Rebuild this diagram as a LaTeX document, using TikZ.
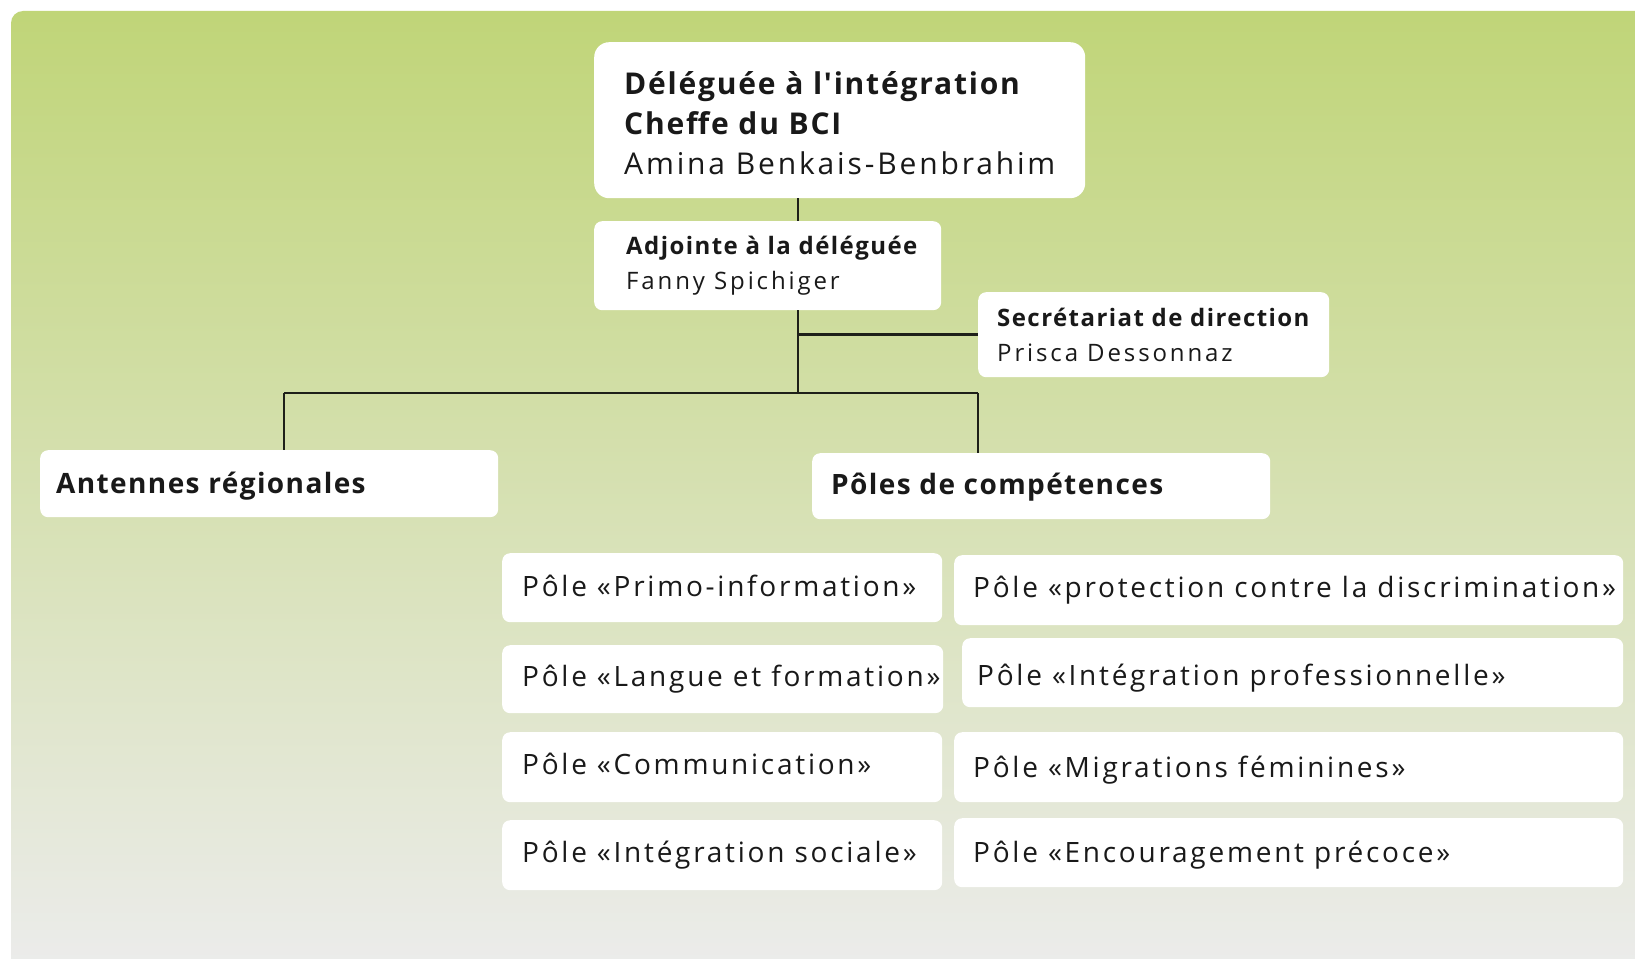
\documentclass[tikz,border=0pt]{standalone}
\usepackage{fontspec}
\setmainfont{Open Sans}
\newfontfamily\fRt[LetterSpace=9.5]{Open Sans}
\newfontfamily\fRm[LetterSpace=12]{Open Sans}
\newfontfamily\fRp[LetterSpace=9.8]{Open Sans}
\newfontfamily\fBt[LetterSpace=6]{Open Sans}
\newfontfamily\fBm[LetterSpace=6]{Open Sans}
\newfontfamily\fBh[LetterSpace=5]{Open Sans}
\definecolor{bgtop}{RGB}{192,213,120}
\definecolor{bgbot}{RGB}{236,236,236}
\definecolor{txt}{RGB}{25,25,25}
\definecolor{lnc}{RGB}{30,32,25}
\begin{document}
\begin{tikzpicture}[x=1pt,y=-1pt,
  box/.style={fill=white, rounded corners=8pt, inner sep=0pt, anchor=north west},
  lbl/.style={inner sep=0pt, anchor=west, align=left, text=txt},
  one/.style={inner sep=0pt, anchor=west, text=txt, text height=20pt, text depth=6pt},
  pole/.style={one, font=\fRp\fontsize{28}{34}\selectfont},
  head/.style={one, font=\fBh\bfseries\fontsize{28}{34}\selectfont},
  ln/.style={draw=lnc, line width=2.6pt}]
\useasboundingbox (0,0) rectangle (1635,958);
\fill[white] (0,0) rectangle (1635,958);
\shade[top color=bgtop, bottom color=bgbot, rounded corners=12pt] (11,11) rectangle (1665,975);

% boxes
\node[box, rounded corners=15pt, minimum width=491pt, minimum height=156pt] (top) at (594,42) {};
\node[box, minimum width=347pt, minimum height=89pt] (adj) at (594,221) {};
\node[box, minimum width=351pt, minimum height=85pt] (sec) at (978,292) {};
\node[box, minimum width=458pt, minimum height=67pt] (ant) at (40,450) {};
\node[box, minimum width=458pt, minimum height=66pt] (pol) at (812,453) {};
\node[box, minimum width=440pt, minimum height=69pt] (l1) at (502,553) {};
\node[box, minimum width=441pt, minimum height=68pt] (l2) at (502,645) {};
\node[box, minimum width=440pt, minimum height=70pt] (l3) at (502,732) {};
\node[box, minimum width=440pt, minimum height=70pt] (l4) at (502,820) {};
\node[box, minimum width=669pt, minimum height=70pt] (r1) at (954,555) {};
\node[box, minimum width=661pt, minimum height=69pt] (r2) at (962,638) {};
\node[box, minimum width=669pt, minimum height=70pt] (r3) at (954,732) {};
\node[box, minimum width=669pt, minimum height=69pt] (r4) at (954,818) {};

% texts
\node[lbl, font=\fontsize{30}{40}\selectfont] (toptxt) at ([xshift=30pt,yshift=-3pt]top.west)
  {{\fBt\bfseries Déléguée à l'intégration}\\{\fBt\bfseries Cheffe du BCI}\\{\fRt Amina Benkais-Benbrahim}};
\node[lbl, font=\fontsize{24}{35}\selectfont] (adjtxt) at ([xshift=32pt]adj.west)
  {{\fBm\bfseries Adjointe à la déléguée}\\{\fRm Fanny Spichiger}};
\node[lbl, font=\fontsize{24}{35}\selectfont] (sectxt) at ([xshift=19pt]sec.west)
  {{\fBm\bfseries Secrétariat de direction}\\{\fRm Prisca Dessonnaz}};
\node[head] (anttxt) at ([xshift=16pt,yshift=-3pt]ant.west) {Antennes régionales};
\node[head] (poltxt) at ([xshift=19pt,yshift=-1pt]pol.west) {Pôles de compétences};
\node[pole] (l1t) at ([xshift=20pt,yshift=-2pt]l1.west) {Pôle «Primo-information»};
\node[pole] (l2t) at ([xshift=20pt]l2.west) {Pôle «Langue et formation»};
\node[pole] (l3t) at ([xshift=20pt]l3.west) {Pôle «Communication»};
\node[pole] (l4t) at ([xshift=20pt]l4.west) {Pôle «Intégration sociale»};
\node[pole] (r1t) at ([xshift=19pt]r1.west) {Pôle «protection contre la discrimination»};
\node[pole] (r2t) at ([xshift=15pt,yshift=-6pt]r2.west) {Pôle «Intégration professionnelle»};
\node[pole] (r3t) at ([xshift=19pt,yshift=-3pt]r3.west) {Pôle «Migrations féminines»};
\node[pole] (r4t) at ([xshift=19pt,yshift=-3pt]r4.west) {Pôle «Encouragement précoce»};

% connectors
\coordinate (jn) at (798,393);
\coordinate (lj) at (284,393);
\coordinate (rj) at (978,393);
\draw[ln] (top.south -| jn) -- (adj.north -| jn);
\draw[ln] (adj.south -| jn) -- (jn);
\draw[ln] (jn |- sec.west) -- (sec.west);
\draw[ln] (lj) -- (rj);
\draw[ln] (lj) -- (lj |- ant.north);
\draw[ln] (rj) -- (rj |- pol.north);
\end{tikzpicture}
\end{document}
